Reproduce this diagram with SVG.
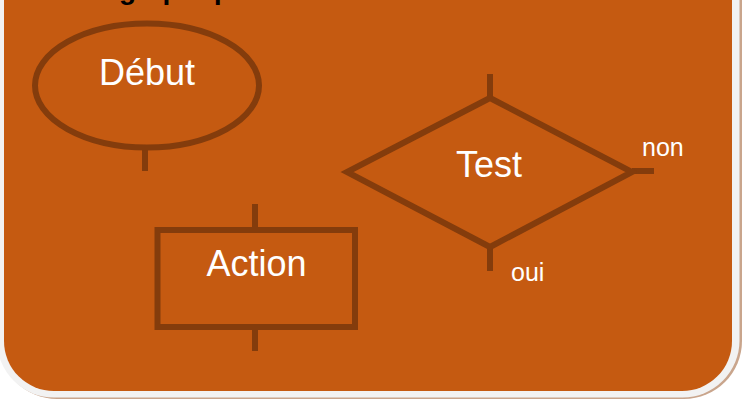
<svg xmlns="http://www.w3.org/2000/svg" width="746" height="399" viewBox="0 0 746 399">
<style>
.shape{fill:none;stroke:#843c0c;stroke-width:6}
.conn{stroke:#843c0c;stroke-width:6;fill:none}
.big{font-family:"Liberation Sans",Arial,sans-serif;font-size:36px;fill:#ffffff;text-anchor:middle}
.lbl{font-family:"Liberation Sans",Arial,sans-serif;font-size:25px;fill:#ffffff}
.title{font-family:"Liberation Sans",Arial,sans-serif;font-size:28px;font-weight:bold;fill:#000000}
</style>
<rect x="0" y="0" width="746" height="399" fill="#ffffff"/>
<g id="panel">
<rect x="-1" y="-80" width="743" height="479" rx="58" fill="#c9a58c"/>
<rect x="-3" y="-80" width="742.5" height="477.5" rx="57" fill="#f2f2f2"/>
<rect x="4" y="-80" width="728" height="471" rx="50" fill="#c55a11"/>
</g>
<g id="title">
<text class="title" x="119" y="-1.5">graphique</text>
</g>
<g id="connectors">
<line class="conn" x1="145" y1="148" x2="145" y2="171"/>
<line class="conn" x1="255" y1="204" x2="255" y2="230"/>
<line class="conn" x1="255" y1="327" x2="255" y2="351"/>
<line class="conn" x1="490" y1="74" x2="490" y2="98"/>
<line class="conn" x1="490" y1="247" x2="490" y2="271"/>
<line class="conn" x1="632" y1="171" x2="654" y2="171"/>
<text class="lbl" x="642" y="156">non</text>
<text class="lbl" x="511" y="281">oui</text>
</g>
<g id="node-debut">
<ellipse class="shape" cx="147" cy="85.5" rx="112" ry="62" stroke-width="5"/>
<text class="big" x="147" y="85">Début</text>
</g>
<g id="node-action">
<rect class="shape" x="157.5" y="230" width="197.5" height="97"/>
<text class="big" x="256.5" y="276">Action</text>
</g>
<g id="node-test">
<polygon class="shape" points="490,98 632,172 490,247 347,172"/>
<text class="big" x="489" y="177">Test</text>
</g>
</svg>
